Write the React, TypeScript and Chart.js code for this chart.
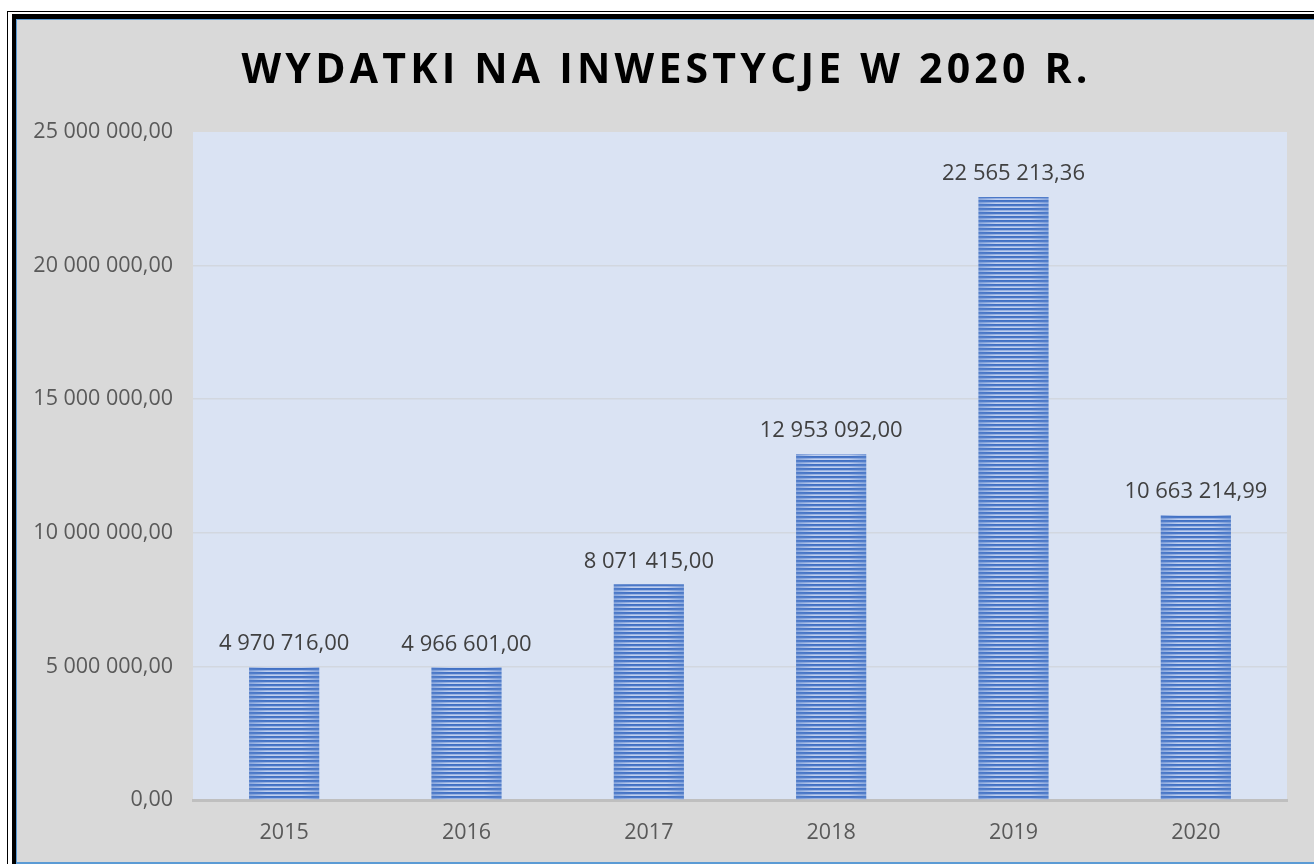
import React, { useEffect, useRef } from "react";
import { Chart, registerables } from "chart.js";

Chart.register(...registerables);

const TITLE = "WYDATKI NA INWESTYCJE W 2020 R.";
const CATEGORIES = ["2015", "2016", "2017", "2018", "2019", "2020"];
const VALUES = [4970716.0, 4966601.0, 8071415.0, 12953092.0, 22565213.36, 10663214.99];
const Y_MIN = 0;
const Y_MAX = 25000000;
const Y_STEP = 5000000;

const FONT = "'Open Sans', 'DejaVu Sans', sans-serif";
const BAR_PCT = 0.385;

function fmtPL(v: number): string {
  const fixed = Math.abs(v).toFixed(2);
  const [intPart, dec] = fixed.split(".");
  const grouped = intPart.replace(/\B(?=(\d{3})+(?!\d))/g, " ");
  return (v < 0 ? "-" : "") + grouped + "," + dec;
}

function makeBarPattern(ctx: CanvasRenderingContext2D, width: number, left: number): CanvasPattern | string {
  if (!isFinite(width) || !isFinite(left) || width <= 1) return "#4472c4";
  const w = Math.max(2, Math.round(width));
  const period = 4;
  const c = document.createElement("canvas");
  c.width = w;
  c.height = period;
  const g = c.getContext("2d");
  if (!g) return "#4472c4";
  const rows: [string, string][] = [
    ["#4f7bc9", "#4170c3"],
    ["#5581cb", "#4a77c7"],
    ["#7b9cd8", "#9ab3e3"],
    ["#8aa8dd", "#c0d0ef"],
  ];
  rows.forEach(([edge, mid], i) => {
    const grad = g.createLinearGradient(0, 0, w, 0);
    grad.addColorStop(0, edge);
    grad.addColorStop(0.25, mid);
    grad.addColorStop(0.75, mid);
    grad.addColorStop(1, edge);
    g.fillStyle = grad;
    g.fillRect(0, i, w, 1);
  });
  const p = ctx.createPattern(c, "repeat");
  if (!p) return "#4472c4";
  try {
    p.setTransform(new DOMMatrix([1, 0, 0, 1, left, 0]));
  } catch (e) {
    /* ignore */
  }
  return p;
}

const plotBgPlugin = {
  id: "plotBg",
  beforeDraw(chart: any) {
    const { ctx, chartArea } = chart;
    ctx.save();
    ctx.fillStyle = "#dae3f3";
    ctx.fillRect(chartArea.left, chartArea.top, chartArea.right - chartArea.left, chartArea.bottom - chartArea.top);
    ctx.restore();
  },
};

const titlePlugin = {
  id: "spacedTitle",
  afterDraw(chart: any) {
    const ctx = chart.ctx as CanvasRenderingContext2D;
    ctx.save();
    ctx.font = `bold 41px ${FONT}`;
    ctx.fillStyle = "#000000";
    ctx.textBaseline = "middle";
    ctx.textAlign = "left";
    (ctx as any).letterSpacing = "0px";
    const w0 = ctx.measureText(TITLE).width;
    const target = 846;
    const n = TITLE.length;
    const ls = Math.max(0, (target - w0) / (n - 1));
    (ctx as any).letterSpacing = `${ls}px`;
    const x = chart.width / 2 - target / 2 - 1;
    ctx.fillText(TITLE, x, 51);
    ctx.restore();
  },
};

const dataLabelPlugin = {
  id: "dataLabels",
  afterDatasetsDraw(chart: any) {
    const ctx = chart.ctx as CanvasRenderingContext2D;
    const meta = chart.getDatasetMeta(0);
    ctx.save();
    ctx.font = `22px ${FONT}`;
    ctx.fillStyle = "#404040";
    ctx.textAlign = "center";
    ctx.textBaseline = "middle";
    meta.data.forEach((bar: any, i: number) => {
      ctx.fillText(fmtPL(VALUES[i]), bar.x, bar.y - 23);
    });
    ctx.restore();
  },
};

export default function App() {
  const canvasRef = useRef<HTMLCanvasElement | null>(null);

  useEffect(() => {
    const canvas = canvasRef.current;
    if (!canvas) return;
    let chart: Chart | null = null;
    try {
      chart = new Chart(canvas, {
        type: "bar",
        data: {
          labels: CATEGORIES,
          datasets: [
            {
              data: VALUES,
              backgroundColor: (c: any) => {
                const ch = c.chart;
                const xs = ch && ch.scales && ch.scales.x;
                if (!xs || c.type !== "data") return "#4472c4";
                const center = xs.getPixelForValue(c.dataIndex);
                const bw = ((xs.right - xs.left) / CATEGORIES.length) * BAR_PCT;
                return makeBarPattern(ch.ctx, bw, center - bw / 2);
              },
              borderWidth: 0,
              categoryPercentage: 1,
              barPercentage: BAR_PCT,
            } as any,
          ],
        },
        options: {
          animation: false,
          responsive: false,
          events: [],
          layout: { padding: { top: 112, right: 27, left: 0, bottom: 0 } },
          plugins: {
            legend: { display: false },
            title: { display: false },
            tooltip: { enabled: false },
          },
          scales: {
            x: {
              z: 1,
              grid: { display: false, drawTicks: false },
              border: { display: true, color: "#bfbfbf", width: 3 },
              ticks: {
                color: "#595959",
                font: { family: FONT, size: 21.5 },
                padding: 20,
              },
              afterFit: (s: any) => {
                s.height = 62;
              },
            },
            y: {
              min: Y_MIN,
              max: Y_MAX,
              grid: {
                drawTicks: false,
                lineWidth: 1.5,
                color: (c: any) =>
                  c.tick && (c.tick.value === Y_MIN || c.tick.value === Y_MAX) ? "rgba(0,0,0,0)" : "#d2d7df",
              },
              border: { display: false },
              ticks: {
                stepSize: Y_STEP,
                color: "#595959",
                font: { family: FONT, size: 21.5 },
                padding: 20,
                callback: (v: any) => fmtPL(Number(v)),
              },
              afterFit: (s: any) => {
                s.width = 176;
              },
            },
          },
        } as any,
        plugins: [plotBgPlugin, dataLabelPlugin, titlePlugin],
      });
    } catch (e) {
      console.error(e);
    }
    return () => {
      if (chart) chart.destroy();
    };
  }, []);

  return (
    <div
      style={{
        position: "absolute",
        left: 0,
        top: 0,
        width: 1314,
        height: 864,
        overflow: "hidden",
        background: "#ffffff",
      }}
    >
      <div
        style={{
          position: "absolute",
          left: 7,
          top: 11,
          width: 1400,
          height: 900,
          border: "1px solid #000",
          boxSizing: "border-box",
        }}
      />
      <div style={{ position: "absolute", left: 12, top: 14, width: 1400, height: 900, background: "#000" }} />
      <div style={{ position: "absolute", left: 16, top: 19, width: 1400, height: 845, background: "#5b9bd5" }} />
      <div style={{ position: "absolute", left: 17, top: 20, width: 1400, height: 842, background: "#d9d9d9" }}>
        <canvas ref={canvasRef} width={1297} height={842} style={{ display: "block", width: 1297, height: 842 }} />
      </div>
    </div>
  );
}
